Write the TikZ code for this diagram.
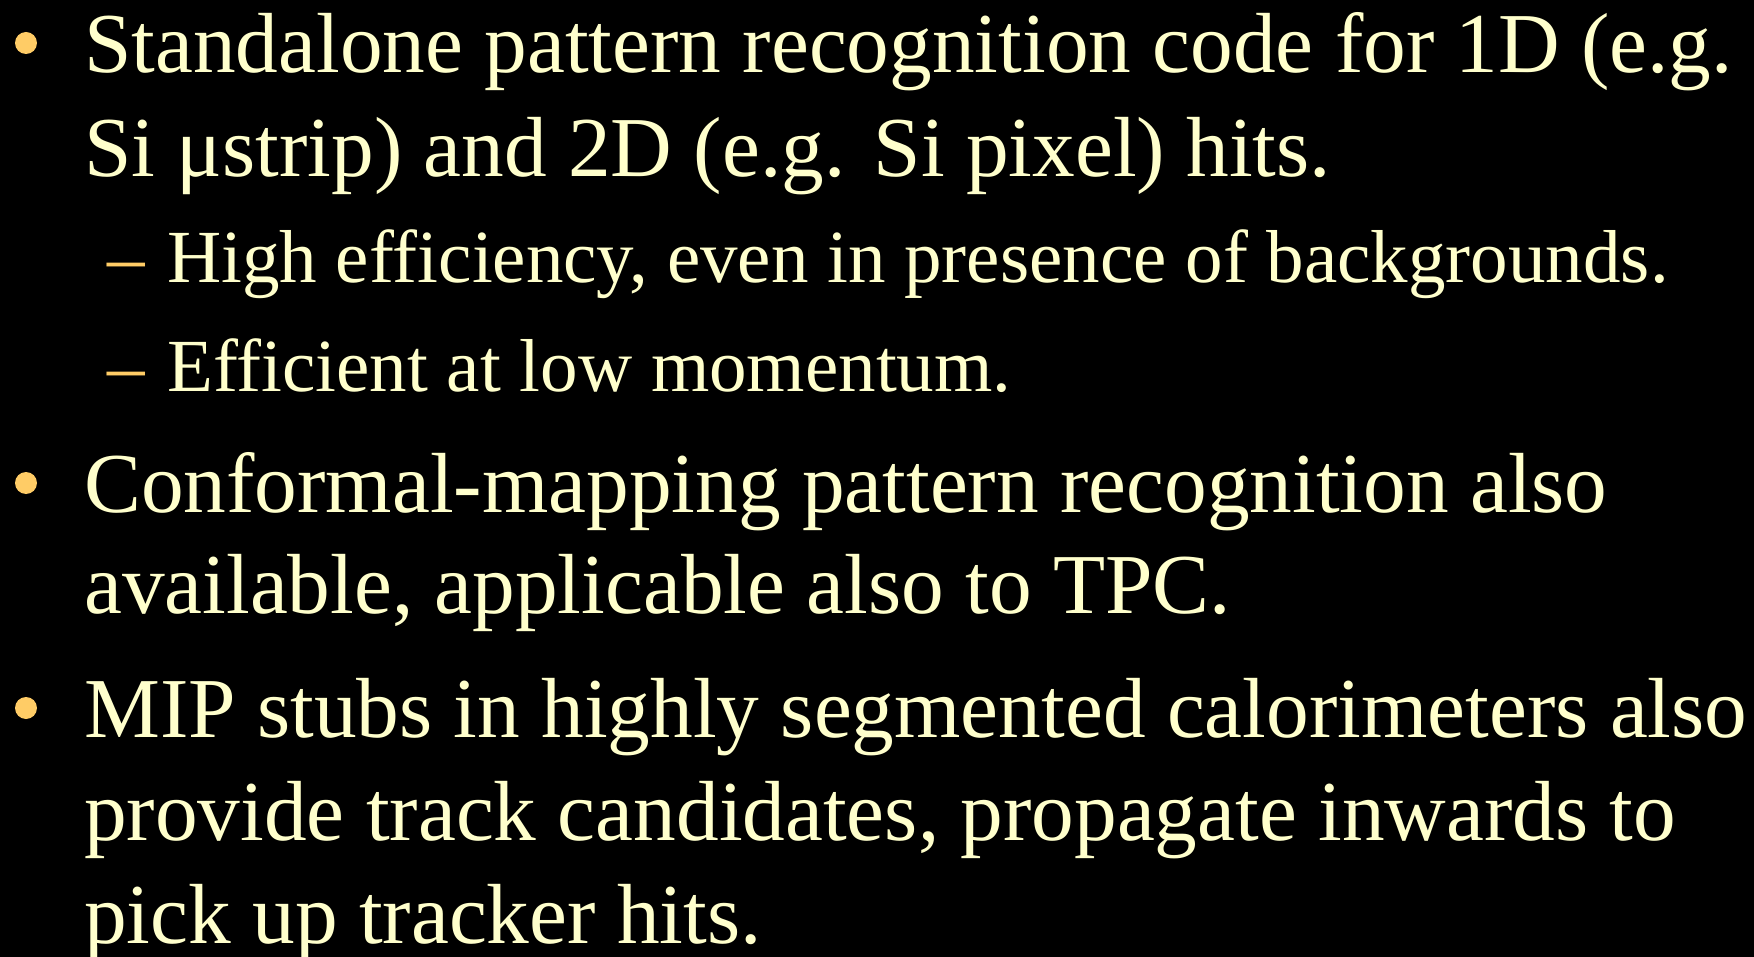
\documentclass[tikz,border=0pt]{standalone}
\usepackage{fontspec}
\setmainfont{Liberation Serif}
\definecolor{slidetext}{HTML}{FFFFCC}
\definecolor{slidebullet}{HTML}{FFCC66}
\begin{document}
\begin{tikzpicture}[x=1pt,y=-1pt,
  line/.style={anchor=base west,inner sep=0pt,text=slidetext,font=\fontsize{85.3}{102}\selectfont},
  subline/.style={anchor=base west,inner sep=0pt,text=slidetext,font=\fontsize{75}{90}\selectfont},
  dot/.style={fill=slidebullet},
  submark/.style={anchor=base west,inner sep=0pt,text=slidebullet,font=\fontsize{75}{90}\selectfont}]
  \fill[black] (0,0) rectangle (1754,957);
  \useasboundingbox (0,0) rectangle (1754,957);
  % bullet centres
  \coordinate (b1) at (26,43);
  \coordinate (b2) at (26,483);
  \coordinate (b3) at (26,708);
  \foreach \b in {b1,b2,b3} \path[dot] (\b) circle[radius=11];
  % first bullet
  \node[line] (l1a) at (84,73) {Standalone pattern recognition code for 1D (e.g.};
  \node[line] (l1b) at (84,177) {Si μstrip) and 2D (e.g. Si pixel) hits.};
  % sub items
  \node[submark] (d1) at (107,283) {–};
  \node[subline] (s1) at (167,283) {High efficiency, even in presence of backgrounds.};
  \node[submark] (d2) at (107,392) {–};
  \node[subline] (s2) at (167,392) {Efficient at low momentum.};
  % second bullet
  \node[line] (l2a) at (84,512) {Conformal-mapping pattern recognition also};
  \node[line] (l2b) at (84,613) {available, applicable also to TPC.};
  % third bullet
  \node[line] (l3a) at (84,737) {MIP stubs in highly segmented calorimeters also};
  \node[line] (l3b) at (84,840) {provide track candidates, propagate inwards to};
  \node[line] (l3c) at (84,943) {pick up tracker hits.};
\end{tikzpicture}
\end{document}
